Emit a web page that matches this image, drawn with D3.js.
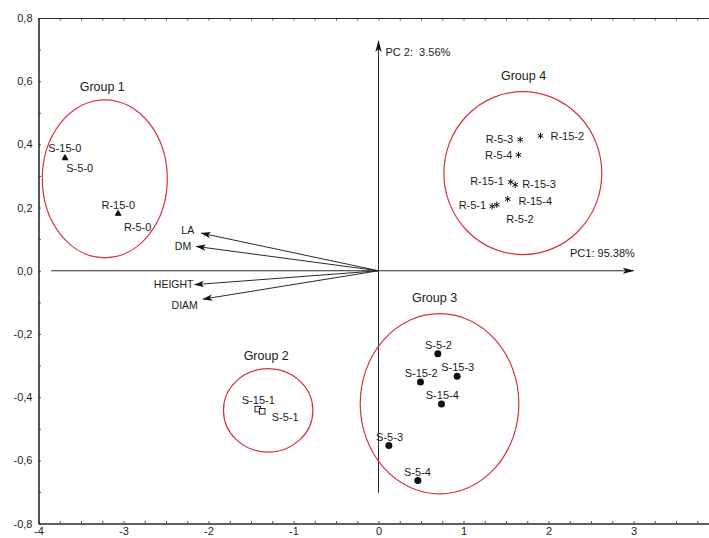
<!DOCTYPE html>
<html>
<head>
<meta charset="utf-8">
<script src="https://cdn.jsdelivr.net/npm/d3@7/dist/d3.min.js"></script>
<style>
  html, body { margin: 0; padding: 0; background: #fff; }
  svg { display: block; font-family: "Liberation Sans", Arial, sans-serif; }
</style>
</head>
<body>
<svg id="chart" width="709" height="538"></svg>
<script>
// ---------------- DATA ----------------
const xTicks = [-4, -3, -2, -1, 0, 1, 2, 3];
const yTicks = [-0.8, -0.6, -0.4, -0.2, 0, 0.2, 0.4, 0.6, 0.8];
const pc1Label = "PC1: 95.38%";
const pc2Label = "PC 2:  3.56%";

// Group 1 (triangles)
const group1Names = ["S-15-0", "S-5-0", "R-15-0", "R-5-0"];
const group1PC1 = [-3.69, -3.685, -3.065, -3.06];
const group1PC2 = [0.358, 0.356, 0.181, 0.180];

// Group 2 (open squares)
const group2Names = ["S-15-1", "S-5-1"];
const group2PC1 = [-1.42, -1.368];
const group2PC2 = [-0.438, -0.445];

// Group 3 (filled circles)
const group3Names = ["S-5-2", "S-15-3", "S-15-2", "S-15-4", "S-5-3", "S-5-4"];
const group3PC1 = [0.698, 0.925, 0.494, 0.741, 0.122, 0.463];
const group3PC2 = [-0.263, -0.334, -0.352, -0.422, -0.553, -0.664];

// Group 4 (asterisks)
const group4Names = ["R-5-3", "R-15-2", "R-5-4", "R-15-1", "R-15-3", "R-15-4", "R-5-1", "R-5-2"];
const group4PC1 = [1.667, 1.906, 1.647, 1.556, 1.608, 1.520, 1.337, 1.392];
const group4PC2 = [0.415, 0.427, 0.367, 0.281, 0.272, 0.227, 0.204, 0.209];

// Loadings (variable vectors)
const loadingNames = ["LA", "DM", "HEIGHT", "DIAM"];
const loadingPC1 = [-2.086, -2.145, -2.165, -2.067];
const loadingPC2 = [0.119, 0.077, -0.044, -0.090];

// Group enclosing ellipses (centre and radii in data units) and titles
const groupTitles = ["Group 1", "Group 2", "Group 3", "Group 4"];
const ellipseCX = [-3.22, -1.298, 0.718, 1.698];
const ellipseCY = [0.291, -0.442, -0.421, 0.309];
const ellipseRX = [0.735, 0.526, 0.933, 0.929];
const ellipseRY = [0.250, 0.132, 0.285, 0.258];
const titleX = [-3.25, -1.321, 0.659, 1.706];
const titleY = [0.582, -0.269, -0.085, 0.617];

// PC axis extents (data units)
const pc1Extent = [-3.85, 3.0];
const pc2Extent = [-0.703, 0.727];

// ---------------- LAYOUT (label placement, px) ----------------
const labelPlace = {
  "S-15-0": [-16.5, -9, "start"], "S-5-0": [1, 9.5, "start"],
  "R-15-0": [-16.5, -8.5, "start"], "R-5-0": [5.5, 13, "start"],
  "S-15-1": [0.5, -9.3, "middle"], "S-5-1": [9.6, 6, "start"],
  "S-5-2": [0.5, -9, "middle"], "S-15-3": [0.6, -9.4, "middle"],
  "S-15-2": [0.7, -9, "middle"], "S-15-4": [0.8, -8.6, "middle"],
  "S-5-3": [0.7, -8.4, "middle"], "S-5-4": [-0.3, -8.7, "middle"],
  "R-5-3": [-7, 0, "end"], "R-15-2": [10, 0, "start"],
  "R-5-4": [-6, 0, "end"], "R-15-1": [-7, -1, "end"],
  "R-15-3": [7, -0.7, "start"], "R-15-4": [10.7, 2.4, "start"],
  "R-5-1": [-6, -0.7, "end"], "R-5-2": [9.4, 14, "start"]
};
const loadPlace = { "LA": [-7, -3], "DM": [-5, 0], "HEIGHT": [-1, -0.7], "DIAM": [-5, 6.4] };

// ---------------- CHART ----------------
const svg = d3.select("#chart");
const x = d3.scaleLinear().domain([-4, 4]).range([38.5, 718.5]);
const y = d3.scaleLinear().domain([-0.8, 0.8]).range([523.5, 18]);
const lineCol = "#2a2a2a";
const textCol = "#1a1a1a";

const fmtY = d => (d < 0 ? "-" : "") + Math.abs(d).toFixed(1).replace(".", ",");
const fmtX = d => (d < 0 ? "-" : "") + Math.abs(d);

// Frame / axes
const minorX = d3.range(-4, 4.01, 0.25);
const minorY = d3.range(-8, 9, 1).map(v => v / 10);

svg.append("g").attr("transform", `translate(0,${y(-0.8)})`)
  .call(d3.axisBottom(x).tickValues(xTicks).tickFormat(fmtX).tickSizeInner(0).tickSizeOuter(0).tickPadding(4));
svg.append("g").attr("transform", `translate(0,${y(-0.8)})`)
  .call(d3.axisBottom(x).tickValues(minorX).tickFormat("").tickSizeInner(-2.5).tickSizeOuter(0));
svg.append("g").attr("transform", `translate(0,${y(0.8)})`)
  .call(d3.axisTop(x).tickValues(minorX).tickFormat("").tickSizeInner(-2.5).tickSizeOuter(0));
svg.append("g").attr("transform", `translate(${x(-4)},0)`)
  .call(d3.axisLeft(y).tickValues(yTicks).tickFormat(fmtY).tickSizeInner(0).tickSizeOuter(0).tickPadding(6));
svg.append("g").attr("transform", `translate(${x(-4)},0)`)
  .call(d3.axisLeft(y).tickValues(minorY).tickFormat("").tickSizeInner(-2.5).tickSizeOuter(0));

svg.selectAll(".domain").attr("stroke", lineCol).attr("stroke-width", 1.1);
svg.selectAll(".tick line").attr("stroke", lineCol).attr("stroke-width", 0.8);
svg.selectAll(".tick text").attr("fill", textCol).attr("font-size", 11)
  .attr("font-family", "'Liberation Sans', Arial, sans-serif");

// Markers
const defs = svg.append("defs");
defs.append("marker").attr("id", "pcArrow").attr("viewBox", "0 0 12 8")
  .attr("refX", 11).attr("refY", 4).attr("markerWidth", 12).attr("markerHeight", 8)
  .attr("markerUnits", "userSpaceOnUse").attr("orient", "auto")
  .append("path").attr("d", "M0,0.8 L12,4 L0,7.2 L3,4 Z").attr("fill", "#111");
defs.append("marker").attr("id", "ldArrow").attr("viewBox", "0 0 10 8")
  .attr("refX", 9.5).attr("refY", 4).attr("markerWidth", 10).attr("markerHeight", 8)
  .attr("markerUnits", "userSpaceOnUse").attr("orient", "auto")
  .append("path").attr("d", "M0,0.8 L10,4 L0,7.2 L2.5,4 Z").attr("fill", "#111");

// PC axes
svg.append("line")
  .attr("x1", x(pc1Extent[0])).attr("y1", y(0)).attr("x2", x(pc1Extent[1])).attr("y2", y(0))
  .attr("stroke", lineCol).attr("stroke-width", 1).attr("marker-end", "url(#pcArrow)");
svg.append("line")
  .attr("x1", x(0)).attr("y1", y(pc2Extent[0])).attr("x2", x(0)).attr("y2", y(pc2Extent[1]))
  .attr("stroke", lineCol).attr("stroke-width", 1).attr("marker-end", "url(#pcArrow)");

svg.append("text").attr("x", x(0) + 7).attr("y", y(pc2Extent[1]) + 11)
  .attr("dy", "0.35em").attr("font-size", 11).attr("fill", textCol)
  .style("white-space", "pre").attr("xml:space", "preserve").text(pc2Label);
svg.append("text").attr("x", 570).attr("y", y(0) - 18)
  .attr("dy", "0.35em").attr("font-size", 11).attr("fill", textCol).text(pc1Label);

// Loadings
const loadings = loadingNames.map((n, i) => ({ name: n, px: loadingPC1[i], py: loadingPC2[i] }));
svg.append("g").selectAll("line").data(loadings).join("line")
  .attr("x1", x(0)).attr("y1", y(0))
  .attr("x2", d => x(d.px)).attr("y2", d => y(d.py))
  .attr("stroke", lineCol).attr("stroke-width", 1).attr("marker-end", "url(#ldArrow)");
svg.append("g").selectAll("text").data(loadings).join("text")
  .attr("x", d => x(d.px) + loadPlace[d.name][0])
  .attr("y", d => y(d.py) + loadPlace[d.name][1])
  .attr("dy", "0.35em").attr("text-anchor", "end")
  .attr("font-size", 10.5).attr("fill", textCol).text(d => d.name);

// Ellipses and group titles
const groups = groupTitles.map((t, i) => ({
  title: t, cx: ellipseCX[i], cy: ellipseCY[i], rx: ellipseRX[i], ry: ellipseRY[i],
  tx: titleX[i], ty: titleY[i]
}));
svg.append("g").selectAll("ellipse").data(groups).join("ellipse")
  .attr("cx", d => x(d.cx)).attr("cy", d => y(d.cy))
  .attr("rx", d => x(d.cx + d.rx) - x(d.cx))
  .attr("ry", d => y(d.cy - d.ry) - y(d.cy))
  .attr("fill", "none").attr("stroke", "#d8323c").attr("stroke-width", 1.2);
svg.append("g").selectAll("text").data(groups).join("text")
  .attr("x", d => x(d.tx)).attr("y", d => y(d.ty))
  .attr("dy", "0.35em").attr("text-anchor", "middle")
  .attr("font-size", 12.5).attr("fill", textCol).text(d => d.title);

// Points
function pts(names, px, py) { return names.map((n, i) => ({ name: n, px: px[i], py: py[i] })); }
const g1 = pts(group1Names, group1PC1, group1PC2);
const g2 = pts(group2Names, group2PC1, group2PC2);
const g3 = pts(group3Names, group3PC1, group3PC2);
const g4 = pts(group4Names, group4PC1, group4PC2);

const pg = svg.append("g");
pg.selectAll("path.tri").data(g1).join("path").attr("class", "tri")
  .attr("transform", d => `translate(${x(d.px)},${y(d.py)})`)
  .attr("d", d3.symbol(d3.symbolTriangle, 18)).attr("fill", "#111");
pg.selectAll("rect.sq").data(g2).join("rect").attr("class", "sq")
  .attr("x", d => x(d.px) - 2.8).attr("y", d => y(d.py) - 2.8)
  .attr("width", 5.6).attr("height", 5.6)
  .attr("fill", "#fff").attr("stroke", "#111").attr("stroke-width", 0.9);
pg.selectAll("circle.dot").data(g3).join("circle").attr("class", "dot")
  .attr("cx", d => x(d.px)).attr("cy", d => y(d.py)).attr("r", 3.5).attr("fill", "#111");
pg.selectAll("path.ast").data(g4).join("path").attr("class", "ast")
  .attr("transform", d => `translate(${x(d.px)},${y(d.py)})`)
  .attr("d", d3.symbol(d3.symbolAsterisk, 28)).attr("fill", "none")
  .attr("stroke", "#111").attr("stroke-width", 1);

// Point labels
const allPts = g1.concat(g2, g3, g4);
svg.append("g").selectAll("text").data(allPts).join("text")
  .attr("x", d => x(d.px) + labelPlace[d.name][0])
  .attr("y", d => y(d.py) + labelPlace[d.name][1])
  .attr("dy", "0.35em").attr("text-anchor", d => labelPlace[d.name][2])
  .attr("font-size", 11).attr("fill", textCol).text(d => d.name);
</script>
</body>
</html>
